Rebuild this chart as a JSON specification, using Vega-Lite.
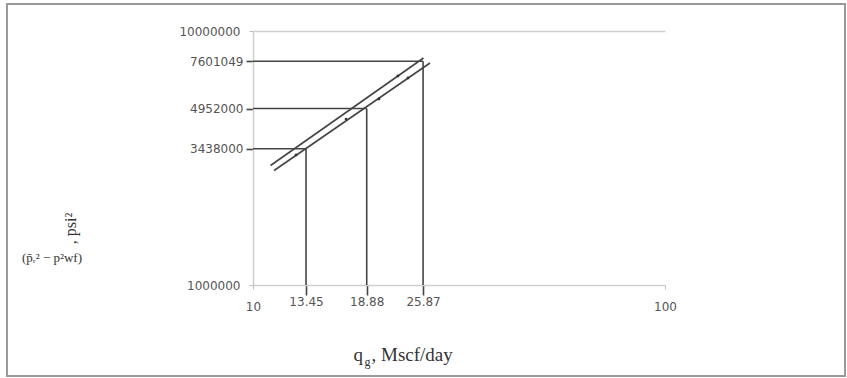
{
  "$schema": "https://vega.github.io/schema/vega-lite/v6.json",
  "width": 838,
  "height": 372,
  "autosize": {"type": "none"},
  "padding": {"left": 7, "top": 4, "right": 2, "bottom": 2},
  "background": "white",
  "title": {
    "text": "(p̄ᵣ² − p²wf)",
    "anchor": "start",
    "frame": "group",
    "orient": "top",
    "dx": 15,
    "dy": 271,
    "baseline": "middle",
    "font": "Liberation Serif",
    "fontSize": 13,
    "fontWeight": "normal",
    "color": "#333333"
  },
  "datasets": {
    "readings": [
      {"q": 13.45, "dp": 3438000},
      {"q": 18.88, "dp": 4952000},
      {"q": 25.87, "dp": 7601049}
    ],
    "fits": [
      {"fit": "upper", "q": 11.03, "dp": 2954000},
      {"fit": "upper", "q": 25.93, "dp": 7830000},
      {"fit": "lower", "q": 11.25, "dp": 2824000},
      {"fit": "lower", "q": 26.89, "dp": 7480000}
    ],
    "tests": [
      {"q": 12.72, "dp": 3250000},
      {"q": 16.82, "dp": 4500000},
      {"q": 20.22, "dp": 5400000},
      {"q": 22.48, "dp": 6650000},
      {"q": 23.78, "dp": 6530000}
    ]
  },
  "layer": [
    {
      "data": {"name": "readings"},
      "mark": {"type": "rule", "color": "#444444", "strokeWidth": 1.6},
      "encoding": {
        "x": {
          "field": "q",
          "type": "quantitative",
          "scale": {"type": "log", "domain": [10, 100], "range": [246, 658]},
          "axis": {
            "orient": "bottom",
            "offset": -91,
            "values": [10, 13.45, 18.88, 25.87, 100],
            "format": ".4~g",
            "grid": false,
            "domainColor": "#cfcfcf",
            "domainWidth": 1.5,
            "tickColor": {"condition": {"test": "datum.value == 10 || datum.value == 100", "value": "#bdbdbd"}, "value": "#444444"},
            "tickSize": {"condition": {"test": "datum.value == 10 || datum.value == 100", "value": 4}, "value": 10},
            "tickWidth": {"condition": {"test": "datum.value == 10 || datum.value == 100", "value": 1}, "value": 1.6},
            "labelPadding": {"condition": {"test": "datum.value == 10 || datum.value == 100", "value": 12}, "value": 1},
            "labelFont": "DejaVu Sans",
            "labelFontSize": 12,
            "labelColor": "#555555",
            "labelFlush": false,
            "labelOverlap": false,
            "title": "q",
            "titleFont": "Liberation Serif",
            "titleFontSize": 19,
            "titleFontWeight": "normal",
            "titleColor": "#333333",
            "titleX": 346,
            "titleY": 75,
            "titleAlign": "left",
            "titleBaseline": "alphabetic"
          }
        },
        "y": {"field": "dp", "type": "quantitative", "axis": null},
        "y2": {"datum": 1000000}
      }
    },
    {
      "data": {"name": "readings"},
      "mark": {"type": "rule", "color": "#444444", "strokeWidth": 1.6},
      "encoding": {
        "x": {"field": "q", "type": "quantitative", "axis": null},
        "x2": {"datum": 10},
        "y": {
          "field": "dp",
          "type": "quantitative",
          "scale": {"type": "log", "domain": [1000000, 10000000], "range": [281, 27]},
          "axis": {
            "orient": "left",
            "offset": -246,
            "values": [1000000, 3438000, 4952000, 7601049, 10000000],
            "format": "d",
            "grid": false,
            "domainColor": "#cfcfcf",
            "domainWidth": 1.5,
            "tickColor": {"condition": {"test": "datum.value == 1000000 || datum.value == 10000000", "value": "#bdbdbd"}, "value": "#444444"},
            "tickSize": {"condition": {"test": "datum.value == 1000000 || datum.value == 10000000", "value": 4}, "value": 7},
            "tickWidth": {"condition": {"test": "datum.value == 1000000 || datum.value == 10000000", "value": 1}, "value": 1.6},
            "labelPadding": {"condition": {"test": "datum.value == 1000000 || datum.value == 10000000", "value": 9}, "value": 3},
            "labelFont": "DejaVu Sans",
            "labelFontSize": 12,
            "labelColor": "#555555",
            "labelFlush": false,
            "labelOverlap": false,
            "title": ", psi²",
            "titleFont": "Liberation Serif",
            "titleFontSize": 16,
            "titleFontWeight": "normal",
            "titleColor": "#333333",
            "titleX": -183,
            "titleY": 224,
            "titleAngle": -90,
            "titleAlign": "center",
            "titleBaseline": "middle"
          }
        }
      }
    },
    {
      "data": {"name": "fits"},
      "mark": {"type": "line", "color": "#444444", "strokeWidth": 1.6},
      "encoding": {
        "x": {"field": "q", "type": "quantitative", "axis": null},
        "y": {"field": "dp", "type": "quantitative", "axis": null},
        "detail": {"field": "fit"}
      }
    },
    {
      "data": {"name": "tests"},
      "mark": {"type": "point", "filled": true, "color": "#333333", "size": 8, "opacity": 1},
      "encoding": {
        "x": {
          "field": "q",
          "type": "quantitative",
          "axis": {
            "orient": "top",
            "offset": -27,
            "labels": false,
            "ticks": false,
            "grid": false,
            "domainColor": "#cfcfcf",
            "domainWidth": 1.5,
            "title": "g",
            "titleFont": "Liberation Serif",
            "titleFontSize": 12,
            "titleFontWeight": "normal",
            "titleColor": "#333333",
            "titleX": 357,
            "titleY": 334,
            "titleAlign": "left",
            "titleBaseline": "alphabetic"
          }
        },
        "y": {
          "field": "dp",
          "type": "quantitative",
          "axis": {
            "orient": "right",
            "offset": 0,
            "domain": false,
            "labels": false,
            "ticks": false,
            "grid": false,
            "title": ", Mscf/day",
            "titleFont": "Liberation Serif",
            "titleFontSize": 19,
            "titleFontWeight": "normal",
            "titleColor": "#333333",
            "titleX": -474,
            "titleY": 356,
            "titleAngle": 0,
            "titleAlign": "left",
            "titleBaseline": "alphabetic"
          }
        }
      }
    }
  ],
  "resolve": {"axis": {"x": "independent", "y": "independent"}},
  "config": {
    "view": {"stroke": "#9a9a9a", "strokeWidth": 2},
    "axis": {"grid": false}
  }
}
